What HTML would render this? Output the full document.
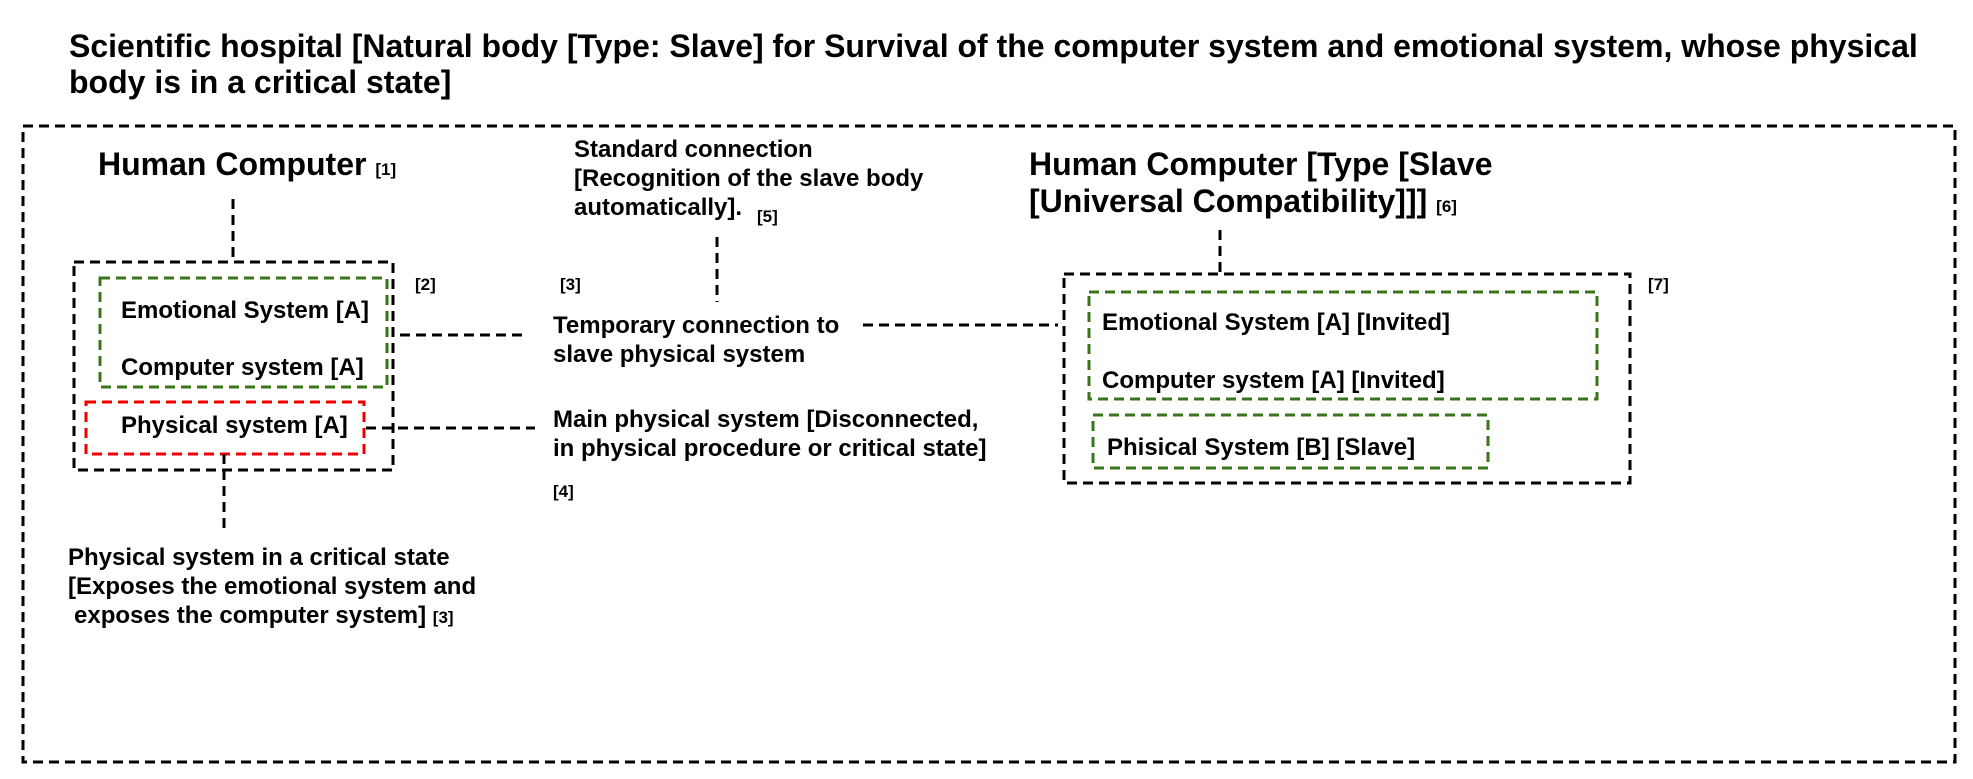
<!DOCTYPE html>
<html><head><meta charset="utf-8"><style>
html,body{margin:0;padding:0;background:#fff;}
svg{display:block;}
text{font-family:"Liberation Sans",Arial,sans-serif;font-weight:bold;fill:#000;}
</style></head><body>
<svg width="1973" height="779" viewBox="0 0 1973 779" xmlns="http://www.w3.org/2000/svg">
<g fill="none" stroke-width="3" stroke-dasharray="10 6">
<rect x="23" y="126" width="1932" height="636" stroke="#000"/>
<rect x="74" y="262" width="319" height="208" stroke="#000"/>
<rect x="100" y="278" width="287" height="109" stroke="#38761d"/>
<rect x="86" y="402" width="278" height="52" stroke="#e00"/>
<rect x="1064" y="274" width="566" height="209" stroke="#000"/>
<rect x="1089" y="292" width="508" height="107" stroke="#38761d"/>
<rect x="1093" y="415" width="395" height="53" stroke="#38761d"/>
<line x1="233" y1="199" x2="233" y2="262" stroke="#000"/>
<line x1="224" y1="454" x2="224" y2="528" stroke="#000"/>
<line x1="717" y1="237" x2="717" y2="302" stroke="#000"/>
<line x1="1220" y1="230" x2="1220" y2="274" stroke="#000"/>
<line x1="400" y1="335" x2="525" y2="335" stroke="#000"/>
<line x1="366" y1="428" x2="535" y2="428" stroke="#000"/>
<line x1="863" y1="325" x2="1058" y2="325" stroke="#000"/>
</g>
<text x="69" y="57" font-size="32">Scientific hospital [Natural body [Type: Slave] for Survival of the computer system and emotional system, whose physical</text>
<text x="69" y="93" font-size="32">body is in a critical state]</text>
<text x="98" y="175" font-size="32">Human Computer <tspan font-size="17">[1]</tspan></text>
<text x="121" y="318" font-size="24">Emotional System [A]</text>
<text x="121" y="375" font-size="24">Computer system [A]</text>
<text x="121" y="433" font-size="24">Physical system [A]</text>
<text x="415" y="290" font-size="17">[2]</text>
<text x="560" y="290" font-size="17">[3]</text>
<text x="574" y="157" font-size="24">Standard connection</text>
<text x="574" y="186" font-size="24">[Recognition of the slave body</text>
<text x="574" y="215" font-size="24">automatically].</text>
<text x="757" y="222" font-size="17">[5]</text>
<text x="553" y="333" font-size="24">Temporary connection to</text>
<text x="553" y="362" font-size="24">slave physical system</text>
<text x="553" y="427" font-size="24">Main physical system [Disconnected,</text>
<text x="553" y="456" font-size="24">in physical procedure or critical state]</text>
<text x="553" y="497" font-size="17">[4]</text>
<text x="68" y="565" font-size="24">Physical system in a critical state</text>
<text x="68" y="594" font-size="24">[Exposes the emotional system and</text>
<text x="74" y="623" font-size="24">exposes the computer system] <tspan font-size="17">[3]</tspan></text>
<text x="1029" y="175" font-size="32">Human Computer [Type [Slave</text>
<text x="1029" y="212" font-size="32">[Universal Compatibility]]] <tspan font-size="17">[6]</tspan></text>
<text x="1648" y="290" font-size="17">[7]</text>
<text x="1102" y="330" font-size="24">Emotional System [A] [Invited]</text>
<text x="1102" y="388" font-size="24">Computer system [A] [Invited]</text>
<text x="1107" y="455" font-size="24">Phisical System [B] [Slave]</text>
</svg>
</body></html>
